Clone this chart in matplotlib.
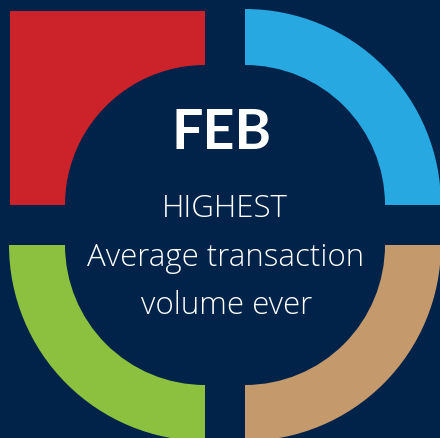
import numpy as np
import matplotlib.pyplot as plt
from matplotlib.patches import Wedge, Polygon

# ------ data ------ #
segment_names = ["top-left", "top-right", "bottom-left", "bottom-right"]
segment_colors = ["#CC2229", "#27A8E0", "#8CC13F", "#C49A6C"]
segment_start_deg = [180, 270, 90, 0]     # screen coords, y axis points down
title_text = "FEB"
body_lines = ["HIGHEST", "Average transaction", "volume ever"]

bg = "#01234A"
W, H = 440, 439
cx, cy = 225, 226          # overall centre
gap = 20                   # half of the gap between quadrants
r_in, r_out = 140, 196

fig = plt.figure(figsize=(4.4, 4.39), dpi=100, facecolor=bg)
ax = fig.add_axes([0, 0, 1, 1])
ax.set_facecolor(bg)
ax.set_xlim(0, W)
ax.set_ylim(H, 0)
ax.axis("off")

offsets = {"top-left": (-gap, -gap), "top-right": (gap, -gap),
           "bottom-left": (-gap, gap), "bottom-right": (gap, gap)}

for name, col, a0 in zip(segment_names, segment_colors, segment_start_deg):
    dx, dy = offsets[name]
    ox, oy = cx + dx, cy + dy
    if name == "top-left":
        # solid corner with the circle cut out
        t = np.radians(np.linspace(270, 180, 60))
        arc = np.column_stack([ox + r_in * np.cos(t), oy + r_in * np.sin(t)])
        pts = [(ox - r_out + 1, oy - r_out + 2), (ox, oy - r_out + 2)] + arc.tolist() + [(ox - r_out + 1, oy)]
        ax.add_patch(Polygon(pts, closed=True, facecolor=col, edgecolor="none"))
    else:
        ax.add_patch(Wedge((ox, oy), r_out, a0, a0 + 90, width=r_out - r_in,
                           facecolor=col, edgecolor="none"))

ax.text(222, 133, title_text, color="white", fontsize=40, fontweight="bold",
        family="Lato", ha="center", va="center")
body_y = [217, 266, 314]
body_x = [225, 226, 227]
for x, y, line in zip(body_x, body_y, body_lines):
    ax.text(x, y, line, color="white", fontsize=22.5, fontweight="light",
            family="Open Sans", ha="center", va="baseline")

fig.savefig("out.png", dpi=100, facecolor=bg)
